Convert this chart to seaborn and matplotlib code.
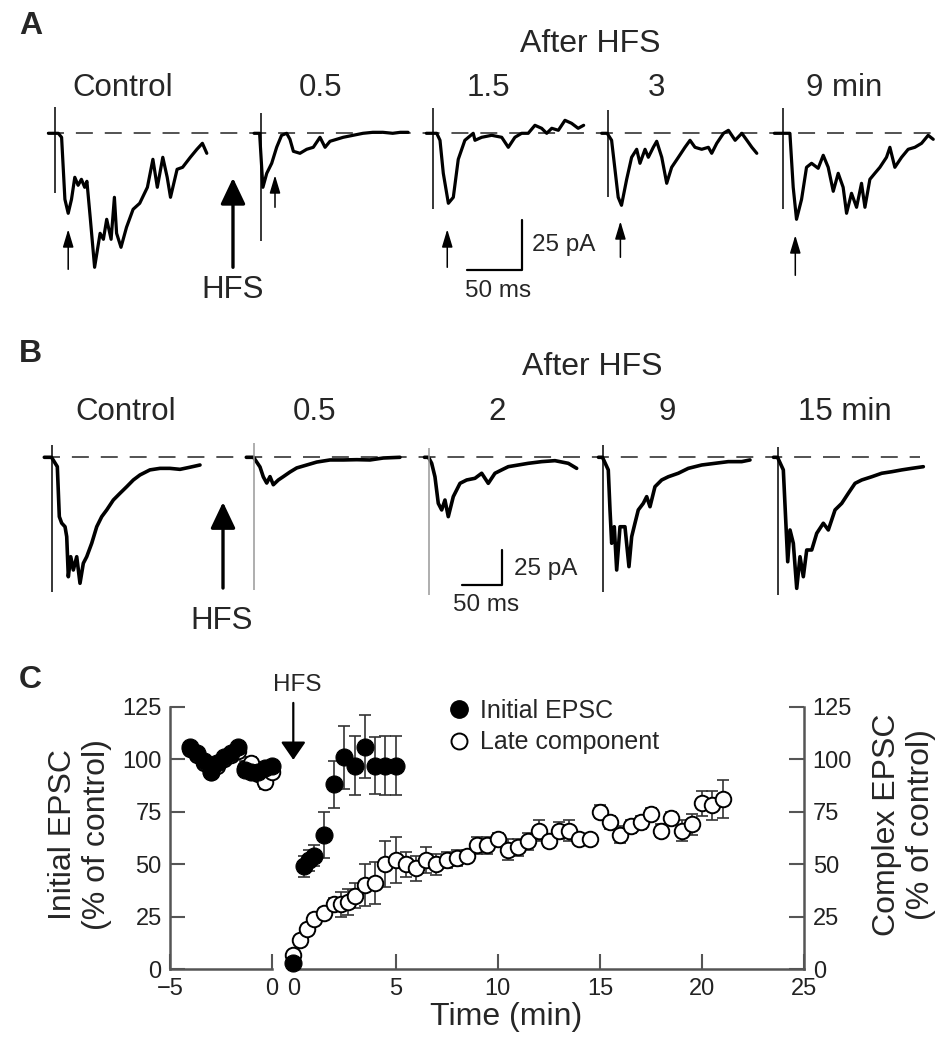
import numpy as np
import pandas as pd
import seaborn as sns
import matplotlib.pyplot as plt
from matplotlib.lines import Line2D

# ---------------- panel A : EPSC traces (ms after stimulus, pA) ----------------
a_ctrl_t = [-6, -1.5, 3, 6, 9, 12, 15, 18, 21, 24, 27, 29, 32, 36, 41, 44, 47, 51, 54, 56,
            60, 65, 71, 77, 84, 89, 93, 98, 102, 105, 111, 116, 123, 129, 134, 138]
a_ctrl_i = [0, 0, 0, -2, -33, -40, -33, -22, -26, -23, -27, -24, -42, -67, -50, -53, -43, -53, -32, -50,
            -57, -47, -38, -35, -27, -13, -27, -12, -22, -32, -18, -17, -12, -8, -5, -10]
a_05_t = [-6, -1, 2, 5.5, 10, 14.5, 19, 23.6, 26.6, 29.7, 35.7, 41.8, 47.8, 53.9, 58.5, 63, 69,
          75, 84, 93, 102, 111, 120, 127, 134]
a_05_i = [0, 0, -27, -20, -15, -7, -1, 0, -3, -9, -10, -8, -7, -2, -7, -4, -3,
          -2, -1, 0, 0.5, 0.5, 0, 0.5, 0.5]
a_15_t = [-6, -1, 3.4, 6.4, 9.4, 14, 18.5, 23, 29, 36.6, 38.2, 44.3, 53.4, 62.5, 68.5, 74.5,
          80.6, 86.6, 92.7, 98.8, 103.4, 108, 114, 120, 126, 132, 137]
a_15_i = [0, 0, 0, -3.5, -20, -35, -32, -13, -3.5, 0, -3.5, -2, -1, -2, -7, -2,
          0, 0, 4, 2.5, 0, 2.5, 1.5, 6.5, 5, 2.5, 4]
a_3_t = [-6, -1, 3, 9, 12, 16.7, 21.2, 25.8, 28.8, 33.4, 36.4, 40.9, 44, 48.6, 53.1, 57.6, 63.7,
         69.7, 74.3, 78.8, 84.9, 91, 94, 98.6, 104.7, 109.2, 115.3, 121.4, 126, 130.5, 135]
a_3_i = [0, 0, -3.5, -32, -36, -23, -12, -8, -15, -8, -12, -7, -4, -12, -25, -17, -12,
         -7, -3.5, -7, -8, -7, -10, -5, 0, 1.5, -3.5, 0, -3.5, -7, -10]
a_9_t = [-8, -1, 6.1, 9.1, 12.1, 16.7, 21.2, 25.8, 31.8, 36.4, 40.9, 45.5, 50, 54.5, 57.6, 62.1,
         66.7, 71.2, 74.3, 78.8, 83.3, 87.9, 93.9, 97, 101.5, 107.6, 113.6, 119.7, 125.8, 131.8, 136.4]
a_9_i = [0, 0, 0, -27, -43, -33, -17, -15, -17.5, -11, -17, -29, -20, -27, -40, -30,
         -37, -25, -37, -23, -20, -17, -12, -7, -17, -12, -8, -7, -5, -1, -3]
a_labels = ["Control", "0.5", "1.5", "3", "9 min"]
a_art_top = [13, 10, 12.5, 11.5, 12.5]       # stimulus artefact (pA)
a_art_bot = [-30, -54, -38, -32, -38]
a_arrow_dt = [12, 13, 13, 11, 11]             # small arrows: ms after stimulus
a_arrow_tip = [-48, -21, -48, -44, -51]
a_arrow_tail = [-68, -37, -67, -62, -71]

# ---------------- panel B ----------------
b_ctrl_t = [-10, -1, 6.25, 8.75, 11.7, 15.9, 18, 20, 23, 26.25, 30.5, 34.6, 38.75, 43, 49.25,
            55.5, 61.75, 68, 76.25, 84.6, 93, 101.25, 109.6, 122, 134.6, 147, 159.6, 172, 184.6]
b_ctrl_i = [0, 0, -6.7, -42.4, -47, -49.6, -56.7, -85.3, -71, -80.5, -71, -90, -75.7, -71, -61.4,
            -49.6, -42.4, -37.6, -30.5, -25.7, -21, -16.2, -12.6, -9, -7.9, -7.9, -8.6, -7.1, -5.5]
b_05_t = [-10, -1, 7.1, 11.25, 15.5, 19.6, 23.75, 30, 36.25, 44.6, 53, 65.5, 78, 94.6, 111.25,
          128, 144.6, 161.25, 182]
b_05_i = [0, 0, -6.9, -14, -18.4, -13.8, -19.6, -16.2, -13.8, -10.5, -7.6, -5.5, -3.4, -1.9, -1.9,
          -1.7, -1.9, -0.5, 0]
b_2_t = [-6, -1, 3, 7.1, 11.25, 15.5, 19.6, 23.75, 30, 38.4, 46.75, 57.1, 65.5, 73.75, 82.1,
         90.5, 98.75, 111.25, 123.75, 140.5, 157.1, 173.75, 184.25]
b_2_i = [0, 0, -4.3, -13.9, -32.9, -37.6, -30.5, -42.4, -28.1, -18.6, -16.2, -15, -11.4, -18.6, -11.4,
         -9, -6.7, -5.5, -4.3, -3.1, -2.4, -4.3, -7.9]
b_9_t = [-6, -1, 6.25, 8.4, 10.5, 13.75, 16.75, 20.9, 27.1, 32.1, 35.5, 39.6, 43.75, 50, 54.25,
         58.4, 64.6, 73, 81.25, 93.75, 106.25, 123, 139.6, 156.25, 173, 183.4]
b_9_i = [0, 0, -9, -37.6, -61.4, -49.6, -80.5, -49.6, -49.6, -78.1, -56.7, -47.1, -37.6, -32.9, -28.1,
         -35.3, -21, -16.2, -13.9, -11.4, -7.9, -5.5, -4.3, -3.1, -3.1, -1.9]
b_15_t = [-6, -1, 6.25, 9.25, 11.75, 14.6, 18.75, 23, 27.1, 31.25, 35.5, 41.75, 48, 56.25, 62.5,
          70.9, 79.25, 87.5, 95.9, 104.25, 116.75, 129.25, 141.75, 154.25, 166.75, 181.25]
b_15_i = [0, 0, -9, -44.8, -74.6, -51.9, -61.4, -93.6, -71, -85.3, -66.2, -66.2, -54.3, -47.1, -51.9,
          -37.6, -32.9, -25.7, -18.6, -16.2, -13.9, -11.4, -10.3, -9, -7.9, -6.7]
b_labels = ["Control", "0.5", "2", "9", "15 min"]
b_art_top = [8.8, 10, 6.4, 8.8, 7.6]
b_art_bot = [-96, -95, -98.4, -96, -98.4]

SCALE_PA = 25
SCALE_MS = 50

# ---------------- panel C : time course (% of control) ----------------
pre_t = [-4.0, -3.67, -3.33, -3.0, -2.67, -2.33, -2.0, -1.67, -1.33, -1.0, -0.67, -0.33, 0.0]
init_pre = [106, 103, 99, 94, 98, 101, 103, 106, 95, 94, 94, 96, 97]
init_pre_err = [2, 2, 2, 2, 2, 2, 2, 2, 2, 2, 2, 2, 2]
late_pre = [105, 102, 98, 94, 97, 100, 102, 104, 96, 98, 93, 89, 94]
late_pre_err = [2, 2, 2, 2, 2, 2, 2, 2, 3, 3, 3, 3, 3]

init_post_t = [0, 0.5, 0.75, 1.0, 1.5, 2.0, 2.5, 3.0, 3.5, 4.0, 4.5, 5.0]
init_post = [3, 49, 52, 54, 64, 88, 101, 97, 106, 97, 97, 97]
init_post_err = [0, 5, 5, 5, 11, 11, 15, 14, 15, 13.5, 14, 14]

late_post_t = [0, 0.33, 0.67, 1.0, 1.5, 2.0, 2.33, 2.67, 3.0, 3.5, 4.0, 4.5, 5.0,
               5.5, 6.0, 6.5, 7.0, 7.5, 8.0, 8.5, 9.0, 9.5, 10.0, 10.5, 11.0, 11.5, 12.0,
               12.5, 13.0, 13.5, 14.0, 14.5, 15.0, 15.5, 16.0, 16.5, 17.0, 17.5, 18.0,
               18.5, 19.0, 19.5, 20.0, 20.5, 21.0]
late_post = [7, 14, 19, 24, 27, 31, 31, 32, 35, 40, 41, 50, 52,
             50, 48, 52, 50, 52, 53, 54, 59, 59, 62, 57, 58, 61, 66,
             61, 66, 66, 62, 62, 75, 70, 64, 68, 70, 74, 66,
             72, 66, 69, 79, 78, 81]
late_post_err = [0, 1, 1, 2, 2, 3, 6, 6, 6, 10, 10, 11, 11,
                 6, 6, 6, 5, 4, 4, 3, 4, 4, 3, 5, 4, 4, 5,
                 3, 4, 5, 2, 2, 3, 3, 4, 3, 3, 3, 3,
                 3, 5, 5, 6, 7, 9]
legend_labels = ["Initial EPSC", "Late component"]
y_ticks = [0, 25, 50, 75, 100, 125]

# ---------------- figure ----------------
sns.set_theme(style="ticks")
plt.rcParams["font.family"] = ["Liberation Sans", "DejaVu Sans"]

W, H = 949, 1050
fig = plt.figure(figsize=(W / 100, H / 100), dpi=100)


def fx(px):
    return px / W


def fy(py):
    return 1 - py / H


def label(px, py, s, size=22.5, ha="center", **kw):
    fig.text(fx(px), fy(py), s, fontsize=size, ha=ha, va="center", **kw)


def trace_axes(top_px, bottom_px, base_px, px_ms, px_pa):
    ax = fig.add_axes([0, fy(bottom_px), 1, (bottom_px - top_px) / H])
    ax.axis("off")
    lims = ((0, W / px_ms), (-(bottom_px - base_px) / px_pa, (base_px - top_px) / px_pa))
    return ax, lims


def draw_traces(ax, traces, stims, tops, bots, colors, lw):
    for (t, i), x0, top, bot, col in zip(traces, stims, tops, bots, colors):
        df = pd.DataFrame({"t": np.asarray(t, float) + x0, "i": i})
        sns.lineplot(data=df, x="t", y="i", ax=ax, color="black", lw=lw,
                     sort=False, estimator=None)
        ax.vlines(x0, bot, top, color=col, lw=1.1)


big_arrow = dict(arrowstyle="-|>,head_length=0.8,head_width=0.38", color="black",
                 lw=2.4, mutation_scale=20, shrinkA=0, shrinkB=0)
small_arrow = dict(arrowstyle="-|>,head_length=0.6,head_width=0.18", color="black",
                   lw=1.1, mutation_scale=18, shrinkA=0, shrinkB=0)

# ---- panel A ----
ax_a, (xl, yl) = trace_axes(100, 300, 133.3, 1.1, 2.0)
a_stim = [50, 237, 393.6, 553, 712]
draw_traces(ax_a, [(a_ctrl_t, a_ctrl_i), (a_05_t, a_05_i), (a_15_t, a_15_i),
                   (a_3_t, a_3_i), (a_9_t, a_9_i)],
            a_stim, a_art_top, a_art_bot, ["black"] * 5, lw=2.3)
ax_a.plot([42.7, 847], [0, 0], color="#444444", lw=1.3, dashes=(9.4, 6.6), zorder=0)
for x0, dt, tip, tail in zip(a_stim, a_arrow_dt, a_arrow_tip, a_arrow_tail):
    ax_a.annotate("", xy=(x0 + dt, tip), xytext=(x0 + dt, tail), arrowprops=small_arrow)
ax_a.annotate("", xy=(211.8, -22.3), xytext=(211.8, -67), arrowprops=big_arrow)
sx, sy = 474.5, -68.35
ax_a.plot([sx - SCALE_MS, sx, sx], [sy, sy, sy + SCALE_PA], color="black", lw=1.6)
ax_a.set_xlim(xl)
ax_a.set_ylim(yl)

label(31, 26, "A", size=23, fontweight="bold")
label(590, 44, "After HFS", size=23)
for px, s in zip([123, 320, 488, 656, 844], a_labels):
    label(px, 88, s)
label(233, 290, "HFS")
label(532, 245, f"{SCALE_PA} pA", size=17.5, ha="left")
label(498, 291, f"{SCALE_MS} ms", size=17.5)

# ---- panel B ----
ax_b, (xl, yl) = trace_axes(420, 640, 457.3, 0.8, 1.4)
b_stim = [65.4, 317.9, 536.6, 754.1, 972.9]
draw_traces(ax_b, [(b_ctrl_t, b_ctrl_i), (b_05_t, b_05_i), (b_2_t, b_2_i),
                   (b_9_t, b_9_i), (b_15_t, b_15_i)],
            b_stim, b_art_top, b_art_bot, ["black", "#999999", "#999999", "black", "black"],
            lw=2.6)
ax_b.plot([53.75, 1150], [0, 0], color="#444444", lw=1.3, dashes=(9.4, 6.6), zorder=0)
ax_b.annotate("", xy=(278.75, -32), xytext=(278.75, -93.4), arrowprops=big_arrow)
sx, sy = 627.5, -91.2
ax_b.plot([sx - SCALE_MS, sx, sx], [sy, sy, sy + SCALE_PA], color="black", lw=1.6)
ax_b.set_xlim(xl)
ax_b.set_ylim(yl)

label(30, 354, "B", size=23, fontweight="bold")
label(592, 367, "After HFS", size=23)
for px, s in zip([126, 315, 497, 667, 845], b_labels):
    label(px, 412, s)
label(222, 621, "HFS")
label(514, 569, f"{SCALE_PA} pA", size=17.5, ha="left")
label(486, 605, f"{SCALE_MS} ms", size=17.5)

# ---- panel C ----
c_top, c_bot = 706.7, 969.3
axL = fig.add_axes([fx(170), fy(c_bot), (271.7 - 170) / W, (c_bot - c_top) / H])
axR = fig.add_axes([fx(293.3), fy(c_bot), (804.3 - 293.3) / W, (c_bot - c_top) / H])

spine_col = "#555555"
for ax in (axL, axR):
    ax.set_ylim(0, 125)
    ax.set_yticks(y_ticks)
    ax.tick_params(direction="in", length=11, width=1.5, color=spine_col,
                   labelsize=17, pad=6, labelcolor="#222222")
    for s in ax.spines.values():
        s.set_color(spine_col)
        s.set_linewidth(1.8)
    ax.spines["top"].set_visible(False)
axL.spines["right"].set_visible(False)
axR.spines["left"].set_visible(False)
axR.yaxis.tick_right()
axL.set_xlim(-5, 0)
axL.set_xticks([-5, 0])
axR.set_xlim(0, 25)
axR.set_xticks([0, 5, 10, 15, 20, 25])

eb = dict(fmt="none", ecolor="#333333", elinewidth=1.2, capsize=4, capthick=1.2,
          zorder=2, clip_on=False)
open_kw = dict(s=125, color="white", edgecolor="black", linewidth=1.4, zorder=3, clip_on=False)
fill_kw = dict(s=150, color="black", edgecolor="black", linewidth=0.8, zorder=4, clip_on=False)

axL.errorbar(pre_t, late_pre, yerr=late_pre_err, **eb)
sns.scatterplot(x=pre_t, y=late_pre, ax=axL, **open_kw)
axL.errorbar(pre_t, init_pre, yerr=init_pre_err, **eb)
sns.scatterplot(x=pre_t, y=init_pre, ax=axL, **fill_kw)

axR.errorbar(late_post_t, late_post, yerr=late_post_err, **eb)
sns.scatterplot(x=late_post_t, y=late_post, ax=axR, **open_kw)
axR.errorbar(init_post_t, init_post, yerr=init_post_err, **eb)
sns.scatterplot(x=init_post_t, y=init_post, ax=axR, **fill_kw)

axR.annotate("", xy=(0, 99.7), xytext=(0, 126.8), annotation_clip=False,
             arrowprops=dict(arrowstyle="-|>,head_length=0.55,head_width=0.38",
                             color="black", lw=1.6, mutation_scale=20,
                             shrinkA=0, shrinkB=0))

handles = [Line2D([], [], ls="none", marker="o", ms=12.5, mfc="black", mec="black"),
           Line2D([], [], ls="none", marker="o", ms=11.5, mfc="white", mec="black", mew=1.4)]
fig.legend(handles, legend_labels, loc="upper left", bbox_to_anchor=(fx(446), fy(699)),
           frameon=False, fontsize=18, handlelength=1.0, handletextpad=0.35,
           labelspacing=0.3, borderpad=0, borderaxespad=0)

for ax in (axL, axR):
    ax.set_xlabel("")
    ax.set_ylabel("")

label(30, 680, "C", size=23, fontweight="bold")
label(297, 685, "HFS", size=17.5)
fig.text(fx(80), fy(835), "Initial EPSC\n(% of control)", fontsize=23, rotation=90,
         ha="center", va="center", multialignment="center")
fig.text(fx(904), fy(825), "Complex EPSC\n(% of control)", fontsize=23, rotation=90,
         ha="center", va="center", multialignment="center")
label(506, 1017, "Time (min)", size=23)

fig.savefig("out.png", dpi=100)
